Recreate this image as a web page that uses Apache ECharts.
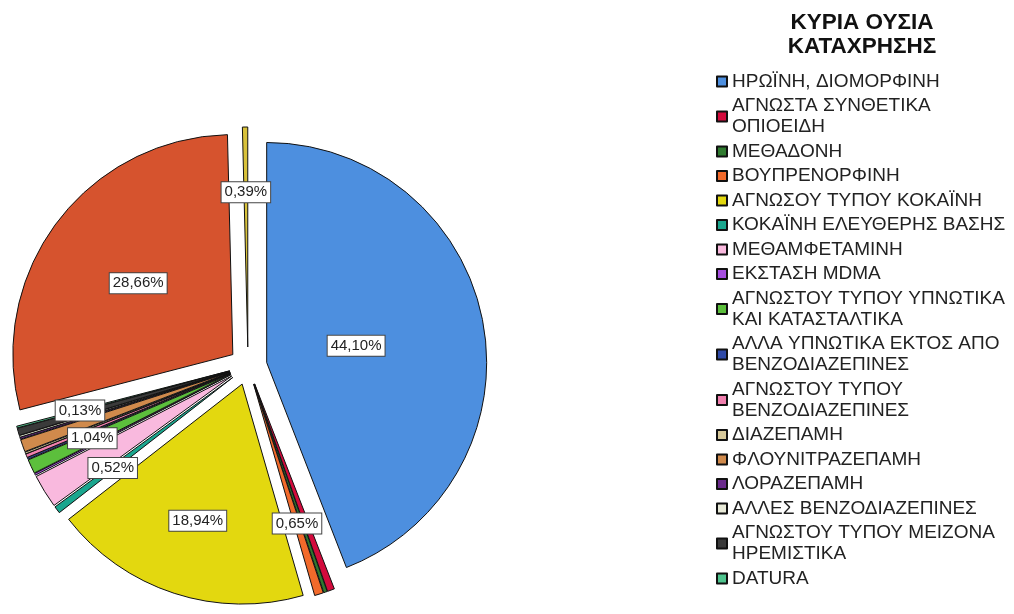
<!DOCTYPE html>
<html lang="el" style="height: 100%">
<head>
  <meta charset="utf-8">
</head>
<body style="height: 100%; margin: 0; background: #fff">
  <div id="container" style="width: 1014px; height: 614px"></div>

  <script type="text/javascript" src="https://cdn.jsdelivr.net/npm/echarts@6/dist/echarts.min.js"></script>

  <script type="text/javascript">
    // slices, clockwise from 12 o'clock (percent of cases)
    var names = [
      'ΗΡΩΪΝΗ, ΔΙΟΜΟΡΦΙΝΗ',
      'ΑΓΝΩΣΤΑ ΣΥΝΘΕΤΙΚΑ\nΟΠΙΟΕΙΔΗ',
      'ΜΕΘΑΔΟΝΗ',
      'ΒΟΥΠΡΕΝΟΡΦΙΝΗ',
      'ΑΓΝΩΣΟΥ ΤΥΠΟΥ ΚΟΚΑΪΝΗ',
      'ΚΟΚΑΪΝΗ ΕΛΕΥΘΕΡΗΣ ΒΑΣΗΣ',
      'ΜΕΘΑΜΦΕΤΑΜΙΝΗ',
      'ΕΚΣΤΑΣΗ MDMA',
      'ΑΓΝΩΣΤΟΥ ΤΥΠΟΥ ΥΠΝΩΤΙΚΑ\nΚΑΙ ΚΑΤΑΣΤΑΛΤΙΚΑ',
      'ΑΛΛΑ ΥΠΝΩΤΙΚΑ ΕΚΤΟΣ ΑΠΟ\nΒΕΝΖΟΔΙΑΖΕΠΙΝΕΣ',
      'ΑΓΝΩΣΤΟΥ ΤΥΠΟΥ\nΒΕΝΖΟΔΙΑΖΕΠΙΝΕΣ',
      'ΔΙΑΖΕΠΑΜΗ',
      'ΦΛΟΥΝΙΤΡΑΖΕΠΑΜΗ',
      'ΛΟΡΑΖΕΠΑΜΗ',
      'ΑΛΛΕΣ ΒΕΝΖΟΔΙΑΖΕΠΙΝΕΣ',
      'ΑΓΝΩΣΤΟΥ ΤΥΠΟΥ ΜΕΙΖΟΝΑ\nΗΡΕΜΙΣΤΙΚΑ',
      'DATURA',
      'ΚΑΝΝΑΒΗ',      // legend entry cut off below the picture
      'ΑΛΛΗ ΟΥΣΙΑ'    // legend entry cut off below the picture
    ];
    var percents = [44.10, 0.52, 0.26, 0.65, 18.94, 0.52, 2.46, 0.13, 1.04, 0.13,
                    0.26, 0.13, 0.91, 0.13, 0.13, 0.52, 0.13, 28.66, 0.39];
    // which slices carry a value label in the picture
    var labelled = [true, false, false, true, true, true, false, false, true, false,
                    false, false, false, false, false, false, true, true, true];

    var colors = ['#4d8fdf', '#d30a3c', '#2f7a2f', '#f26a2b', '#e3d80f', '#1aa68e',
                  '#f9b9de', '#a64ee0', '#5cbf3c', '#2f4aa8', '#f07fae', '#d6c89a',
                  '#d08a4c', '#6a2a8c', '#e8ead8', '#3a3a3a', '#4fc48e', '#d6532e', '#d8c13a'];
    // radial position of each label, as a fraction of the radius
    var labelRadius = [0.40, 0.67, 0.67, 0.65, 0.64, 0.67, 0.67, 0.67, 0.68, 0.67,
                       0.67, 0.67, 0.68, 0.67, 0.67, 0.67, 0.69, 0.525, 0.69];

    var CX = 248, CY = 366, R = 220;
    var FONT = "'Liberation Sans', Arial, sans-serif";

    var chart = echarts.init(document.getElementById('container'), null, { renderer: 'canvas' });

    var data = names.map(function (n, i) {
      return {
        name: n,
        value: percents[i],
        selected: true,
        itemStyle: { color: colors[i] },
        label: { show: labelled[i] }
      };
    });

    var option = {
      backgroundColor: '#fff',
      animation: false,
      title: {
        text: 'ΚΥΡΙΑ ΟΥΣΙΑ\nΚΑΤΑΧΡΗΣΗΣ',
        left: 857,
        top: 6,
        textAlign: 'center',
        textStyle: { fontFamily: FONT, fontSize: 22.5, fontWeight: 'bold', lineHeight: 24, color: '#111' }
      },
      legend: {
        orient: 'vertical',
        left: 711,
        top: 66,
        icon: 'rect',
        itemWidth: 10,
        itemHeight: 10,
        itemGap: 3.5,
        selectedMode: false,
        data: names.slice(0, 17),
        textStyle: { fontFamily: FONT, fontSize: 19, lineHeight: 21, color: '#222' }
      },
      series: [{
        type: 'pie',
        center: [CX, CY],
        radius: [0, R],
        startAngle: 90,
        clockwise: true,
        selectedMode: 'multiple',
        selectedOffset: 19,
        avoidLabelOverlap: false,
        emphasis: { disabled: true },
        itemStyle: { borderColor: '#111', borderWidth: 1 },
        select: { itemStyle: { borderColor: '#111', borderWidth: 1 } },
        label: {
          position: 'inside',
          formatter: function (p) { return p.value.toFixed(2).replace('.', ',') + '%'; },
          fontFamily: FONT,
          fontSize: 15,
          color: '#222',
          backgroundColor: '#fff',
          borderColor: '#444',
          borderWidth: 1,
          padding: [3, 3, 2, 3]
        },
        labelLine: { show: false },
        labelLayout: function (p) {
          var lx = p.labelRect.x + p.labelRect.width / 2;
          var ly = p.labelRect.y + p.labelRect.height / 2;
          var vx = lx - CX, vy = ly - CY;
          var len = Math.sqrt(vx * vx + vy * vy) || 1;
          var shift = (labelRadius[p.dataIndex] - 0.5) * R;
          return { dx: vx / len * shift, dy: vy / len * shift };
        },
        data: data
      }]
    };

    chart.setOption(option);
    window.addEventListener('resize', chart.resize);
  </script>
</body>
</html>
